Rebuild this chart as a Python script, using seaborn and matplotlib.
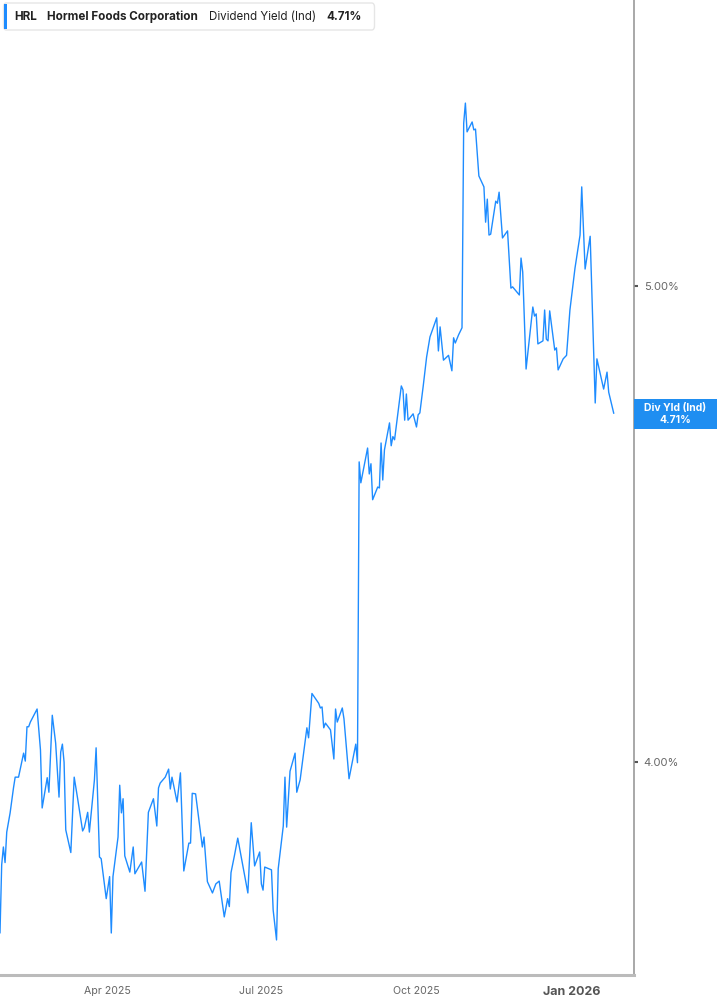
import pandas as pd
import matplotlib
matplotlib.use("Agg")
import matplotlib.pyplot as plt
import matplotlib.dates as mdates
from matplotlib.patches import Rectangle, FancyBboxPatch
from matplotlib.ticker import FixedLocator, FuncFormatter, NullLocator
import seaborn as sns

# --- data: dividend yield (indicated), % ---
START_DATE = "2025-01-27"
day_offset = [
    0, 1, 2, 3, 4, 6, 8, 9, 11, 14, 15, 16, 17, 18, 22, 24, 25, 28, 29, 31,
    33, 35, 36, 37, 38, 39, 42, 44, 46, 49, 50, 52, 53, 56, 57, 59, 60, 63, 65, 66,
    67, 70, 71, 72, 73, 74, 77, 79, 80, 84, 86, 88, 91, 93, 94, 95, 98, 100, 101, 102,
    105, 107, 109, 112, 113, 114, 116, 120, 121, 123, 126, 128, 130, 133, 135, 136, 137, 139, 141, 147,
    149, 151, 154, 155, 156, 157, 161, 162, 164, 165, 168, 169, 170, 172, 175, 176, 178, 182, 183, 185,
    189, 190, 191, 192, 193, 196, 198, 199, 200, 203, 204, 207, 211, 212, 213, 214, 218, 219, 220, 221,
    224, 225, 226, 227, 228, 231, 232, 233, 234, 238, 239, 240, 241, 242, 245, 247, 248, 249, 251, 253,
    255, 259, 260, 261, 263, 266, 268, 269, 270, 272, 274, 275, 276, 277, 280, 281, 282, 284, 287, 288,
    289, 290, 291, 294, 295, 296, 298, 301, 303, 304, 308, 309, 310, 312, 314, 316, 317, 318, 319, 322,
    323, 324, 325, 326, 329, 330, 331, 334, 336, 338, 341, 344, 345, 347, 350, 353, 354, 358, 360, 361,
    364,
]
div_yield = [
    3.691, 3.811, 3.843, 3.815, 3.870, 3.905, 3.951, 3.971, 3.971, 4.016,
    4.001, 4.066, 4.066, 4.075, 4.100, 4.022, 3.914, 3.970, 3.943, 4.088,
    4.035, 3.934, 4.018, 4.033, 3.999, 3.874, 3.833, 3.971, 3.932, 3.872,
    3.878, 3.906, 3.870, 3.966, 4.026, 3.825, 3.822, 3.751, 3.790, 3.691,
    3.790, 3.861, 3.956, 3.905, 3.931, 3.827, 3.798, 3.843, 3.795, 3.816,
    3.764, 3.906, 3.931, 3.881, 3.951, 3.960, 3.971, 3.986, 3.949, 3.971,
    3.925, 3.979, 3.800, 3.850, 3.850, 3.941, 3.940, 3.843, 3.861, 3.781,
    3.761, 3.777, 3.782, 3.719, 3.751, 3.737, 3.797, 3.827, 3.859, 3.761,
    3.887, 3.809, 3.834, 3.777, 3.766, 3.807, 3.802, 3.731, 3.679, 3.804,
    3.881, 3.971, 3.879, 3.982, 4.016, 3.943, 3.966, 4.064, 4.045, 4.130,
    4.111, 4.102, 4.104, 4.064, 4.073, 4.060, 4.005, 4.100, 4.075, 4.102,
    4.081, 3.968, 4.033, 3.998, 4.604, 4.559, 4.634, 4.578, 4.600, 4.523,
    4.550, 4.548, 4.645, 4.565, 4.630, 4.689, 4.639, 4.659, 4.652, 4.771,
    4.762, 4.695, 4.753, 4.695, 4.709, 4.680, 4.707, 4.711, 4.771, 4.836,
    4.882, 4.926, 4.850, 4.905, 4.829, 4.840, 4.805, 4.880, 4.868, 4.887,
    4.903, 5.397, 5.448, 5.375, 5.400, 5.380, 5.382, 5.265, 5.238, 5.152,
    5.208, 5.121, 5.123, 5.203, 5.198, 5.225, 5.114, 5.131, 4.995, 4.998,
    4.979, 5.066, 5.033, 4.809, 4.880, 4.951, 4.930, 4.935, 4.866, 4.873,
    4.944, 4.877, 4.873, 4.942, 4.852, 4.857, 4.807, 4.832, 4.840, 4.944,
    5.042, 5.121, 5.238, 5.040, 5.118, 4.733, 4.832, 4.764, 4.802, 4.757,
    4.710,
]
y_ticks = [4.0, 5.0]
x_ticks = ["2025-04-01", "2025-07-01", "2025-10-01", "2026-01-01"]
x_tick_labels = ["Apr 2025", "Jul 2025", "Oct 2025", "Jan 2026"]
ticker_symbol = "HRL"
company = "Hormel Foods Corporation"
metric = "Dividend Yield (Ind)"
last_label = "4.71%"

LINE_BLUE = "#1e8cff"
BOX_BLUE = "#1f8ef1"

df = pd.DataFrame({
    "date": pd.to_datetime(START_DATE) + pd.to_timedelta(day_offset, unit="D"),
    "yield": div_yield,
})

sns.set_style("white")
plt.rcParams["font.family"] = ["Inter", "DejaVu Sans"]

W, H = 717, 1005
fig = plt.figure(figsize=(W / 100, H / 100), dpi=100)
ax = fig.add_axes([0, 30 / H, 634 / W, 975 / H])

sns.lineplot(data=df, x="date", y="yield", ax=ax, color=LINE_BLUE, linewidth=1.0)

ax.set_yscale("log")
ax.set_ylim(3.619, 5.718)
ax.set_xlim(pd.Timestamp("2025-01-27"), pd.Timestamp("2026-02-07"))

# right value axis
ax.yaxis.tick_right()
ax.yaxis.set_major_locator(FixedLocator(y_ticks))
ax.yaxis.set_minor_locator(NullLocator())
ax.yaxis.set_major_formatter(FuncFormatter(lambda v, p: f"{v:.2f}%"))
ax.tick_params(axis="y", which="major", direction="out", length=3, width=1.5,
               color="#555555", labelsize=8, labelcolor="#666666", pad=4)

# bottom date axis
ax.set_xticks(pd.to_datetime(x_ticks))
ax.set_xticklabels(x_tick_labels)
ax.tick_params(axis="x", direction="out", length=4, width=1, color="#999999",
               labelsize=7.6, labelcolor="#666666", pad=4)
for lbl in ax.get_xticklabels():
    if lbl.get_text().startswith("Jan"):
        lbl.set_fontweight("bold")
        lbl.set_fontsize(9)
        lbl.set_color("#555555")

ax.set_xlabel("")
ax.set_ylabel("")
for side in ["left", "top"]:
    ax.spines[side].set_visible(False)
ax.spines["right"].set_color("#999999")
ax.spines["right"].set_linewidth(1.2)
ax.spines["bottom"].set_color("#bbbbbb")
ax.spines["bottom"].set_linewidth(2.2)

# header legend box
fig.patches.append(FancyBboxPatch((3.5 / W, 1 - 30 / H), 371 / W, 27 / H,
                                  boxstyle="round,pad=0,rounding_size=0.004",
                                  transform=fig.transFigure, fc="white",
                                  ec="#e6e6e6", lw=1))
fig.patches.append(Rectangle((4 / W, 1 - 29 / H), 3 / W, 25 / H,
                             transform=fig.transFigure, fc=LINE_BLUE, ec="none"))
hy = 1 - 17 / H
fig.text(14 / W, hy, ticker_symbol, fontsize=8.4, fontweight="bold", color="#222222", va="center")
fig.text(47 / W, hy, company, fontsize=8.4, fontweight="bold", color="#222222", va="center")
fig.text(209 / W, hy, metric, fontsize=8.3, color="#222222", va="center")
fig.text(326 / W, hy, last_label, fontsize=8.4, fontweight="bold", color="#222222", va="center")

# last value flag on the right axis
last_date = df["date"].iloc[-1]
last_val = df["yield"].iloc[-1]
_, y_disp = ax.transData.transform((mdates.date2num(last_date), last_val))
y_fig = y_disp / H - 1 / H
fig.patches.append(Rectangle((634 / W, y_fig - 15 / H), 83 / W, 30 / H,
                             transform=fig.transFigure, fc=BOX_BLUE, ec="none"))
fig.text(675.5 / W, y_fig + 6 / H, "Div Yld (Ind)", fontsize=7.5, fontweight="bold",
         color="white", ha="center", va="center")
fig.text(675.5 / W, y_fig - 6 / H, last_label, fontsize=7.5, fontweight="bold",
         color="white", ha="center", va="center")

fig.savefig("out.png", dpi=100)
